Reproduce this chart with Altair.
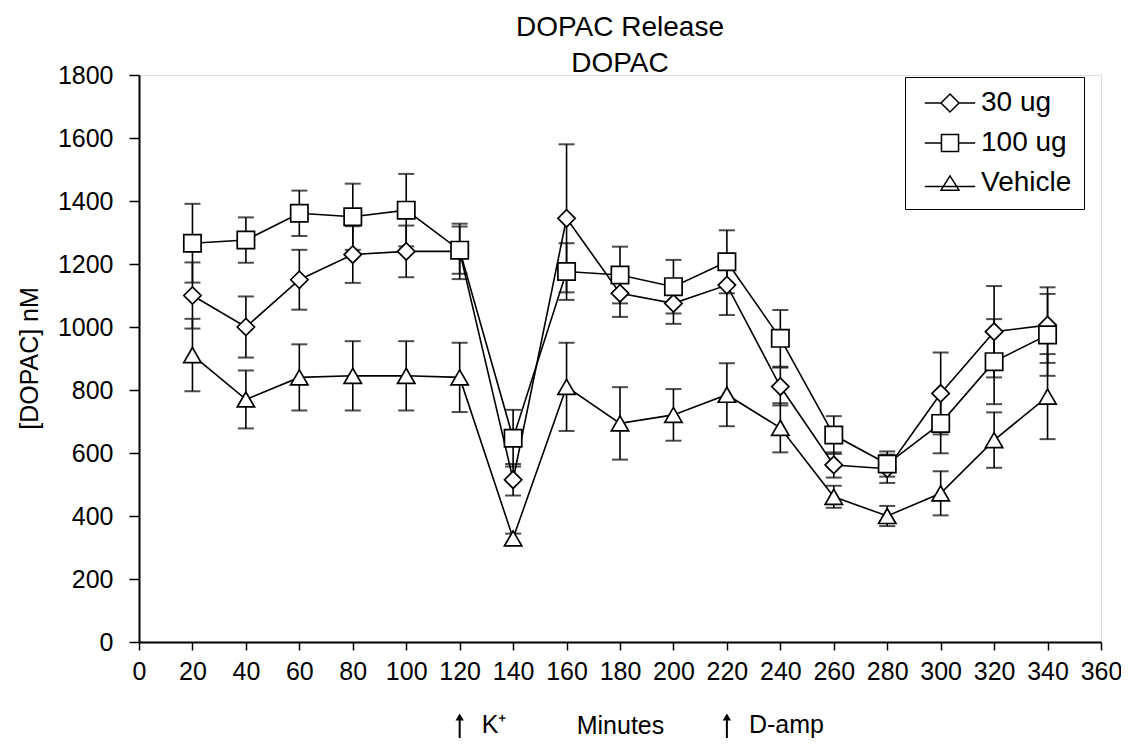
import altair as alt
import pandas as pd

# ---- data ----
minutes = [20, 40, 60, 80, 100, 120, 140, 160, 180, 200, 220, 240, 260, 280, 300, 320, 340]
series_names = ["30 ug", "100 ug", "Vehicle"]

mean_30 = [1100, 1000, 1150, 1230, 1240, 1240, 515, 1345, 1107, 1075, 1133, 811, 562, 550, 789, 985, 1006]
sem_30 = [105, 97, 95, 90, 82, 88, 50, 235, 75, 65, 95, 60, 40, 45, 130, 145, 120]

mean_100 = [1266, 1276, 1361, 1350, 1371, 1244, 647, 1176, 1165, 1128, 1207, 964, 657, 565, 694, 890, 975]
sem_100 = [125, 72, 72, 105, 115, 75, 90, 90, 90, 85, 100, 90, 60, 40, 95, 135, 130]

mean_veh = [911, 770, 840, 845, 845, 840, 329, 810, 694, 721, 785, 680, 461, 400, 472, 641, 779]
sem_veh = [115, 92, 105, 110, 110, 110, 15, 140, 115, 82, 100, 78, 35, 32, 70, 88, 135]

x_ticks = list(range(0, 361, 20))
y_ticks = list(range(0, 1801, 200))

event_times = [120, 220]
event_labels = ["K\u207a", "D-amp"]

marker_shapes = ["diamond", "square", "triangle-up"]
legend_shapes = [
    "M-2.8,0L-1,0M1,0L2.8,0M0,-1L1,0L0,1L-1,0Z",
    "M-2.8,0L-1,0M1,0L2.8,0M-0.95,-0.95L0.95,-0.95L0.95,0.95L-0.95,0.95Z",
    "M-2.8,0.4L2.8,0.4M0,-0.8L1,0.8L-1,0.8Z",
]

rows = []
for name, means, sems in zip(series_names, [mean_30, mean_100, mean_veh], [sem_30, sem_100, sem_veh]):
    for m, v, e in zip(minutes, means, sems):
        rows.append({"series": name, "minutes": m, "value": v, "lo": v - e, "hi": v + e})
df = pd.DataFrame(rows)
events = pd.DataFrame({"minutes": event_times, "label": event_labels})

FONT = "Liberation Sans"

xscale = alt.Scale(domain=[0, 360], nice=False, zero=False)
yscale = alt.Scale(domain=[0, 1800], nice=False)

x_axis = alt.Axis(
    values=x_ticks, grid=False, format="d", title="Minutes", titleFont=FONT, titleFontSize=25,
    titleFontWeight="normal", titleColor="black", titleBaseline="middle", titleY=83,
    labelFont=FONT, labelFontSize=25, labelColor="black", labelPadding=9,
    tickSize=8, tickColor="black", tickWidth=1.5, domainColor="black", domainWidth=2,
    labelOverlap=False, labelFlush=False,
)
y_axis = alt.Axis(
    values=y_ticks, grid=False, format="d", title="[DOPAC] nM", titleFont=FONT, titleFontSize=25,
    titleFontWeight="normal", titleColor="black", titleAngle=270, titleX=-110, titleY=283,
    titleAlign="center", titleBaseline="middle",
    labelFont=FONT, labelFontSize=25, labelColor="black", labelPadding=16,
    tickSize=10, tickColor="black", tickWidth=1.5, domainColor="black", domainWidth=2,
    labelOverlap=False, labelFlush=False,
)


def X():
    return alt.X("minutes:Q", scale=xscale, axis=x_axis)


def Y(field):
    return alt.Y(f"{field}:Q", scale=yscale, axis=y_axis)


base = alt.Chart(df)

lines = base.mark_line(color="black", strokeWidth=1.6).encode(x=X(), y=Y("value"), detail="series:N")

err = base.mark_rule(color="black", strokeWidth=1.6).encode(x=X(), y=Y("lo"), y2="hi:Q")
cap_lo = base.mark_tick(orient="horizontal", color="black", size=16, thickness=2).encode(x=X(), y=Y("lo"))
cap_hi = base.mark_tick(orient="horizontal", color="black", size=16, thickness=2).encode(x=X(), y=Y("hi"))

points = base.mark_point(filled=True, fill="white", stroke="black", strokeWidth=1.7, size=300, opacity=1).encode(
    x=X(), y=Y("value"),
    shape=alt.Shape("series:N", scale=alt.Scale(domain=series_names, range=marker_shapes), legend=None),
)

legend_layer = base.mark_point(opacity=0).encode(
    x=X(), y=Y("value"),
    shape=alt.Shape(
        "series:N",
        scale=alt.Scale(domain=series_names, range=legend_shapes),
        legend=alt.Legend(
            title=None, orient="none", legendX=766, legendY=2, padding=12,
            strokeColor="black", fillColor="white",
            symbolSize=324, symbolFillColor="white", symbolStrokeColor="black",
            symbolStrokeWidth=1.5, symbolOpacity=1, symbolOffset=19,
            labelOffset=17, labelFont=FONT, labelFontSize=28, labelColor="black",
            rowPadding=12, labelLimit=300,
            labelExpr="datum.label + '   '",
        ),
    ),
)

arrow_shaft = alt.Chart(events).mark_rule(color="black", strokeWidth=2).encode(
    x=X(), y=alt.value(641), y2=alt.value(663)
)
arrow_head = alt.Chart(events).mark_point(shape="triangle-up", filled=True, color="black", size=70, opacity=1).encode(
    x=X(), y=alt.value(642)
)
event_text = alt.Chart(events).mark_text(
    align="left", baseline="middle", dx=22, font=FONT, fontSize=25, color="black"
).encode(x=X(), y=alt.value(650), text="label:N")

chart = (
    alt.layer(lines, err, cap_lo, cap_hi, points, legend_layer, arrow_shaft, arrow_head, event_text)
    .resolve_scale(shape="independent")
    .properties(
        width=962,
        height=567,
        autosize=alt.AutoSizeParams(type="none"),
        padding={"left": 131, "top": 67, "right": 20, "bottom": 98},
        title=alt.TitleParams(
            ["DOPAC Release", "DOPAC"], font=FONT, fontSize=28, fontWeight="normal",
            color="black", anchor="middle", frame="group", lineHeight=36, offset=-15,
        ),
    )
    .configure_view(stroke=None)
    .configure(background="white")
)

chart.save("out.html", embed_options={"renderer": "svg", "actions": False})
